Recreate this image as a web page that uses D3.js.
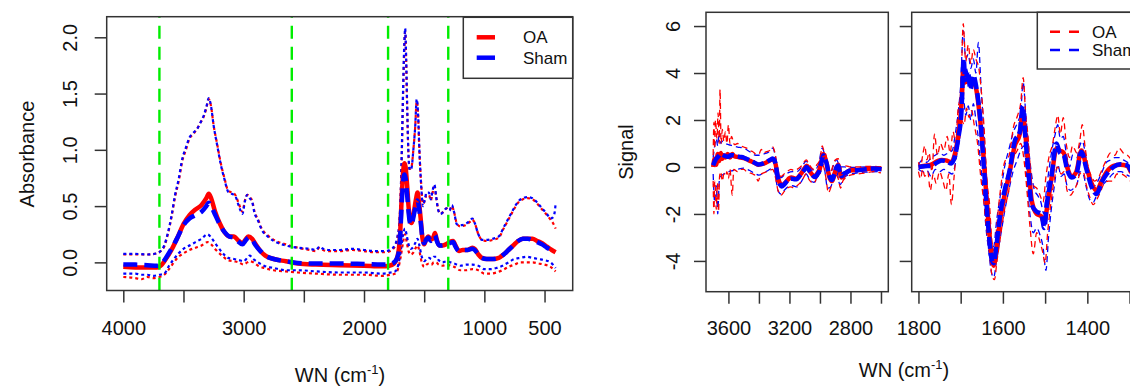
<!DOCTYPE html>
<html>
<head>
<meta charset="utf-8">
<script src="https://cdn.jsdelivr.net/npm/d3@7"></script>
<style>
  body { margin: 0; background: #fff; }
  svg { display: block; font-family: "Liberation Sans", Arial, Helvetica, sans-serif; }
</style>
</head>
<body>
<svg id="chart" width="1130" height="388"></svg>
<script>
// ---- left panel: absorbance spectra, [wavenumber, value] ----
const oaAbsMean = [[4000,-0.04],[3900,-0.045],[3800,-0.045],[3720,-0.045],[3680,-0.02],[3640,0.04],[3600,0.11],[3550,0.22],[3500,0.34],[3450,0.42],[3400,0.47],[3350,0.51],[3310,0.57],[3290,0.61],[3270,0.57],[3240,0.46],[3200,0.35],[3160,0.27],[3120,0.23],[3080,0.23],[3050,0.2],[3010,0.17],[2980,0.21],[2960,0.23],[2930,0.21],[2900,0.16],[2860,0.1],[2820,0.06],[2750,0.03],[2650,0.01],[2550,-0.01],[2400,-0.02],[2200,-0.025],[2000,-0.03],[1850,-0.035],[1790,-0.03],[1750,-0.01],[1725,0.04],[1710,0.12],[1700,0.25],[1690,0.5],[1678,0.75],[1665,0.88],[1655,0.85],[1643,0.7],[1630,0.5],[1618,0.37],[1605,0.35],[1590,0.42],[1570,0.55],[1555,0.62],[1545,0.55],[1530,0.4],[1515,0.22],[1500,0.16],[1485,0.2],[1465,0.23],[1445,0.2],[1425,0.22],[1410,0.26],[1395,0.2],[1375,0.15],[1350,0.15],[1320,0.16],[1290,0.18],[1260,0.19],[1240,0.15],[1210,0.1],[1180,0.11],[1140,0.11],[1100,0.13],[1080,0.12],[1050,0.07],[1020,0.04],[980,0.03],[930,0.03],[880,0.04],[840,0.07],[800,0.11],[760,0.15],[720,0.19],[680,0.21],[640,0.21],[600,0.21],[560,0.19],[520,0.17],[480,0.14],[440,0.11],[408,0.09]];
const shamAbsMean = [[4000,-0.02],[3900,-0.02],[3800,-0.025],[3720,-0.03],[3680,-0.01],[3640,0.05],[3600,0.12],[3550,0.22],[3500,0.33],[3450,0.39],[3400,0.42],[3350,0.45],[3310,0.5],[3290,0.53],[3270,0.5],[3240,0.43],[3200,0.34],[3160,0.27],[3120,0.23],[3080,0.22],[3050,0.19],[3010,0.16],[2980,0.2],[2960,0.22],[2930,0.2],[2900,0.15],[2860,0.1],[2820,0.06],[2750,0.03],[2650,0.01],[2550,-0.005],[2400,-0.01],[2200,-0.01],[2000,-0.015],[1850,-0.02],[1790,-0.015],[1750,0.0],[1725,0.04],[1710,0.1],[1700,0.22],[1690,0.45],[1678,0.68],[1665,0.78],[1655,0.75],[1643,0.62],[1630,0.45],[1618,0.35],[1605,0.33],[1590,0.4],[1570,0.5],[1555,0.55],[1545,0.5],[1530,0.37],[1515,0.22],[1500,0.17],[1485,0.2],[1465,0.22],[1445,0.19],[1425,0.21],[1410,0.24],[1395,0.19],[1375,0.15],[1350,0.15],[1320,0.16],[1290,0.17],[1260,0.18],[1240,0.14],[1210,0.1],[1180,0.11],[1140,0.11],[1100,0.12],[1080,0.11],[1050,0.07],[1020,0.04],[980,0.03],[930,0.03],[880,0.04],[840,0.07],[800,0.11],[760,0.15],[720,0.19],[680,0.21],[640,0.21],[600,0.2],[560,0.18],[520,0.16],[480,0.13],[440,0.11],[408,0.1]];
const oaAbsHi = [[4000,0.07],[3900,0.07],[3800,0.07],[3720,0.08],[3690,0.1],[3660,0.14],[3630,0.25],[3600,0.4],[3570,0.58],[3540,0.72],[3510,0.9],[3480,1.0],[3450,1.1],[3420,1.14],[3390,1.18],[3360,1.24],[3330,1.3],[3310,1.37],[3290,1.45],[3270,1.38],[3250,1.22],[3220,1.05],[3190,0.88],[3160,0.75],[3130,0.64],[3100,0.62],[3070,0.6],[3040,0.52],[3010,0.45],[2990,0.55],[2970,0.6],[2950,0.58],[2930,0.55],[2910,0.45],[2880,0.38],[2850,0.3],[2800,0.24],[2750,0.2],[2650,0.16],[2550,0.13],[2450,0.11],[2400,0.1],[2370,0.13],[2340,0.11],[2300,0.1],[2200,0.1],[2100,0.11],[2000,0.1],[1900,0.09],[1820,0.09],[1770,0.11],[1740,0.15],[1720,0.23],[1705,0.35],[1695,0.6],[1685,1.0],[1675,1.5],[1665,1.9],[1658,2.05],[1650,1.8],[1642,1.4],[1632,1.0],[1620,0.83],[1605,0.85],[1590,1.0],[1575,1.2],[1562,1.43],[1550,1.3],[1540,1.0],[1525,0.7],[1510,0.52],[1495,0.55],[1480,0.6],[1460,0.6],[1445,0.55],[1430,0.62],[1415,0.67],[1400,0.58],[1385,0.48],[1365,0.43],[1340,0.45],[1315,0.48],[1290,0.46],[1270,0.5],[1250,0.44],[1230,0.35],[1200,0.32],[1160,0.33],[1120,0.36],[1100,0.38],[1080,0.35],[1050,0.25],[1020,0.2],[980,0.19],[930,0.2],[880,0.22],[840,0.3],[800,0.38],[760,0.46],[720,0.53],[680,0.56],[640,0.57],[600,0.56],[560,0.52],[520,0.47],[480,0.42],[450,0.38],[430,0.35],[408,0.3]];
const shamAbsHi = [[4000,0.075],[3900,0.075],[3800,0.07],[3720,0.08],[3690,0.1],[3660,0.15],[3630,0.26],[3600,0.41],[3570,0.6],[3540,0.74],[3510,0.92],[3480,1.02],[3450,1.11],[3420,1.15],[3390,1.18],[3360,1.24],[3330,1.31],[3310,1.38],[3290,1.46],[3270,1.38],[3250,1.22],[3220,1.04],[3190,0.87],[3160,0.74],[3130,0.63],[3100,0.61],[3070,0.59],[3040,0.5],[3010,0.43],[2990,0.54],[2970,0.6],[2950,0.57],[2930,0.54],[2910,0.44],[2880,0.37],[2850,0.29],[2800,0.23],[2750,0.19],[2650,0.15],[2550,0.13],[2450,0.12],[2400,0.11],[2370,0.14],[2340,0.12],[2300,0.11],[2200,0.11],[2100,0.12],[2000,0.11],[1900,0.1],[1820,0.1],[1770,0.12],[1740,0.16],[1720,0.24],[1705,0.37],[1695,0.62],[1685,1.05],[1675,1.55],[1665,1.95],[1658,2.08],[1650,1.82],[1642,1.42],[1632,1.0],[1620,0.82],[1605,0.84],[1590,1.0],[1575,1.2],[1562,1.45],[1550,1.3],[1540,1.0],[1525,0.68],[1510,0.5],[1495,0.56],[1480,0.62],[1460,0.62],[1445,0.56],[1430,0.64],[1415,0.69],[1400,0.58],[1385,0.47],[1365,0.43],[1340,0.45],[1315,0.48],[1290,0.46],[1270,0.51],[1250,0.44],[1230,0.34],[1200,0.33],[1160,0.34],[1120,0.37],[1100,0.39],[1080,0.35],[1050,0.25],[1020,0.2],[980,0.2],[930,0.21],[880,0.23],[840,0.31],[800,0.39],[760,0.47],[720,0.54],[680,0.57],[640,0.58],[600,0.57],[560,0.53],[520,0.48],[480,0.43],[450,0.39],[430,0.4],[415,0.45],[408,0.52]];
const oaAbsLo = [[4000,-0.13],[3900,-0.14],[3850,-0.15],[3800,-0.13],[3750,-0.14],[3700,-0.13],[3660,-0.11],[3620,-0.06],[3580,0.0],[3540,0.05],[3500,0.08],[3450,0.11],[3400,0.13],[3350,0.15],[3300,0.18],[3270,0.16],[3230,0.11],[3180,0.06],[3130,0.02],[3080,0.01],[3040,0.0],[3000,-0.02],[2970,0.0],[2950,0.01],[2920,0.0],[2880,-0.03],[2830,-0.05],[2750,-0.07],[2650,-0.08],[2550,-0.09],[2400,-0.1],[2200,-0.11],[2000,-0.11],[1850,-0.12],[1780,-0.11],[1740,-0.1],[1715,-0.05],[1695,0.05],[1675,0.18],[1660,0.25],[1645,0.18],[1630,0.1],[1612,0.07],[1595,0.08],[1575,0.12],[1555,0.15],[1540,0.1],[1520,0.0],[1500,-0.04],[1480,-0.02],[1460,-0.01],[1440,-0.02],[1420,0.0],[1400,0.0],[1380,-0.02],[1350,-0.03],[1310,-0.02],[1280,-0.03],[1250,-0.04],[1200,-0.07],[1150,-0.07],[1100,-0.06],[1050,-0.07],[1000,-0.1],[950,-0.1],[900,-0.09],[850,-0.07],[800,-0.04],[750,-0.02],[700,0.0],[650,0.0],[600,0.0],[550,-0.01],[500,-0.02],[450,-0.04],[408,-0.08]];
const shamAbsLo = [[4000,-0.1],[3900,-0.1],[3850,-0.11],[3800,-0.11],[3750,-0.12],[3700,-0.11],[3660,-0.1],[3620,-0.03],[3580,0.03],[3540,0.08],[3500,0.12],[3450,0.15],[3400,0.18],[3350,0.21],[3300,0.25],[3270,0.22],[3230,0.16],[3180,0.09],[3130,0.04],[3080,0.03],[3040,0.02],[3000,0.01],[2970,0.04],[2950,0.06],[2920,0.03],[2880,0.0],[2830,-0.03],[2750,-0.05],[2650,-0.07],[2550,-0.07],[2400,-0.08],[2200,-0.09],[2000,-0.09],[1850,-0.1],[1780,-0.09],[1740,-0.08],[1715,-0.02],[1695,0.1],[1675,0.25],[1660,0.3],[1645,0.24],[1630,0.16],[1612,0.12],[1595,0.13],[1575,0.17],[1555,0.21],[1540,0.15],[1520,0.05],[1500,0.01],[1480,0.03],[1460,0.04],[1440,0.03],[1420,0.05],[1400,0.05],[1380,0.02],[1350,0.0],[1310,0.01],[1280,0.0],[1250,-0.01],[1200,-0.03],[1150,-0.02],[1100,-0.02],[1050,-0.03],[1000,-0.06],[950,-0.06],[900,-0.05],[850,-0.03],[800,0.0],[750,0.03],[700,0.04],[650,0.05],[600,0.04],[550,0.03],[500,0.02],[450,0.0],[408,-0.05]];
const regionBounds = [3700, 2600, 1800, 1300];

// ---- right panel: signal, high wavenumber window ----
const oaSigMeanHigh = [[3700,0.0],[3690,0.35],[3680,0.1],[3670,0.55],[3660,0.25],[3650,0.6],[3640,0.35],[3630,0.5],[3620,0.4],[3605,0.55],[3590,0.4],[3575,0.55],[3560,0.45],[3540,0.43],[3520,0.4],[3500,0.38],[3480,0.33],[3458,0.26],[3437,0.2],[3420,0.14],[3404,0.1],[3388,0.11],[3371,0.14],[3355,0.18],[3339,0.24],[3322,0.3],[3310,0.33],[3300,0.28],[3290,0.1],[3280,-0.3],[3273,-0.5],[3262,-0.7],[3251,-0.8],[3235,-0.72],[3218,-0.6],[3200,-0.48],[3186,-0.45],[3170,-0.48],[3153,-0.5],[3135,-0.38],[3120,-0.25],[3100,-0.05],[3087,0.05],[3075,-0.05],[3066,-0.18],[3050,-0.33],[3033,-0.4],[3015,-0.25],[3000,-0.05],[2990,0.25],[2978,0.55],[2968,0.4],[2956,0.15],[2945,-0.25],[2934,-0.5],[2920,-0.6],[2905,-0.3],[2890,0.0],[2880,0.1],[2870,-0.2],[2858,-0.45],[2845,-0.35],[2830,-0.25],[2803,-0.15],[2770,-0.13],[2738,-0.12],[2700,-0.1],[2650,-0.06],[2620,-0.07],[2596,-0.08]];
const shamSigMeanHigh = [[3700,0.07],[3685,0.3],[3666,0.45],[3650,0.55],[3633,0.5],[3615,0.45],[3601,0.43],[3585,0.5],[3568,0.5],[3545,0.46],[3524,0.43],[3500,0.4],[3480,0.34],[3458,0.28],[3437,0.21],[3420,0.15],[3404,0.11],[3388,0.12],[3371,0.15],[3355,0.2],[3339,0.26],[3322,0.32],[3310,0.36],[3300,0.3],[3290,0.1],[3280,-0.3],[3273,-0.55],[3262,-0.75],[3251,-0.83],[3235,-0.75],[3218,-0.62],[3200,-0.52],[3186,-0.5],[3170,-0.52],[3153,-0.52],[3135,-0.4],[3120,-0.28],[3100,-0.1],[3087,0.0],[3075,-0.1],[3066,-0.2],[3050,-0.35],[3033,-0.43],[3015,-0.3],[3000,-0.1],[2990,0.2],[2978,0.5],[2968,0.35],[2956,0.15],[2945,-0.2],[2934,-0.45],[2920,-0.55],[2905,-0.3],[2890,0.0],[2880,0.05],[2870,-0.2],[2858,-0.4],[2845,-0.3],[2830,-0.25],[2803,-0.15],[2770,-0.14],[2738,-0.13],[2700,-0.1],[2650,-0.07],[2620,-0.08],[2596,-0.1]];
const oaSigHiHigh = [[3700,0.5],[3695,1.9],[3690,0.8],[3685,2.0],[3675,1.2],[3668,2.3],[3660,1.0],[3655,3.3],[3648,1.0],[3640,1.6],[3630,1.1],[3620,1.5],[3610,1.0],[3600,1.8],[3590,1.0],[3580,1.3],[3560,0.95],[3540,1.0],[3520,0.9],[3500,0.85],[3480,0.8],[3460,0.7],[3440,0.65],[3420,0.55],[3400,0.55],[3385,0.75],[3370,0.6],[3350,0.65],[3330,0.7],[3310,0.85],[3295,0.6],[3275,-0.2],[3255,-0.4],[3235,-0.3],[3215,-0.2],[3190,-0.1],[3170,-0.15],[3150,-0.1],[3120,0.05],[3090,0.3],[3070,0.1],[3040,-0.1],[3020,0.1],[3000,0.3],[2985,0.9],[2975,0.7],[2960,0.5],[2945,0.0],[2930,-0.2],[2915,0.05],[2900,0.3],[2880,0.35],[2865,-0.05],[2850,0.0],[2830,0.05],[2800,0.0],[2750,0.0],[2700,0.02],[2650,0.03],[2600,0.0]];
const oaSigLoHigh = [[3700,-0.6],[3695,-2.0],[3690,-0.6],[3685,-1.0],[3680,-1.8],[3672,-0.7],[3665,-1.9],[3658,-0.4],[3650,-0.2],[3640,-0.6],[3630,-0.3],[3620,-0.4],[3610,-0.2],[3600,-0.5],[3590,-0.1],[3575,-1.2],[3565,-0.1],[3540,-0.2],[3520,-0.1],[3500,-0.1],[3480,-0.2],[3460,-0.25],[3440,-0.3],[3420,-0.4],[3405,-0.6],[3390,-0.35],[3370,-0.25],[3350,-0.2],[3330,-0.15],[3310,-0.1],[3295,-0.35],[3275,-1.0],[3255,-1.2],[3235,-1.05],[3215,-0.9],[3190,-0.85],[3170,-0.9],[3150,-0.8],[3120,-0.6],[3090,-0.3],[3070,-0.55],[3040,-0.7],[3020,-0.45],[3000,-0.3],[2985,0.1],[2975,0.0],[2960,-0.5],[2945,-1.1],[2930,-0.9],[2915,-0.5],[2900,-0.3],[2880,-0.5],[2865,-0.9],[2850,-0.6],[2830,-0.45],[2800,-0.35],[2750,-0.3],[2700,-0.25],[2650,-0.2],[2600,-0.25]];
const shamSigHiHigh = [[3700,0.4],[3690,0.9],[3680,1.2],[3670,0.9],[3660,1.5],[3650,1.0],[3640,1.1],[3620,1.0],[3600,0.95],[3570,0.9],[3540,0.85],[3500,0.8],[3460,0.65],[3420,0.5],[3400,0.5],[3370,0.55],[3340,0.62],[3310,0.8],[3295,0.55],[3275,-0.2],[3255,-0.45],[3235,-0.35],[3210,-0.25],[3180,-0.2],[3150,-0.2],[3120,0.0],[3090,0.25],[3070,0.05],[3040,-0.15],[3010,0.1],[2985,0.8],[2970,0.55],[2950,0.0],[2930,-0.25],[2910,0.1],[2890,0.3],[2870,0.0],[2840,0.0],[2800,-0.02],[2700,0.0],[2600,-0.02]];
const shamSigLoHigh = [[3700,-0.3],[3690,-1.5],[3680,-0.8],[3670,-2.0],[3660,-0.6],[3650,-0.4],[3630,-0.3],[3600,-0.2],[3570,-0.15],[3540,-0.1],[3500,-0.05],[3460,-0.15],[3420,-0.3],[3400,-0.35],[3370,-0.25],[3340,-0.15],[3310,-0.05],[3295,-0.25],[3275,-1.0],[3255,-1.15],[3235,-1.0],[3210,-0.85],[3180,-0.8],[3150,-0.85],[3120,-0.6],[3090,-0.3],[3070,-0.5],[3040,-0.65],[3010,-0.35],[2985,0.15],[2970,-0.1],[2950,-0.9],[2930,-0.85],[2910,-0.45],[2890,-0.2],[2870,-0.75],[2840,-0.45],[2800,-0.3],[2700,-0.22],[2600,-0.2]];

// ---- right panel: signal, fingerprint window ----
const oaSigMeanLow = [[1800,0.0],[1785,0.05],[1770,0.1],[1755,0.25],[1745,0.3],[1735,0.28],[1722,0.2],[1713,0.6],[1705,1.4],[1698,2.7],[1693,4.2],[1689,3.6],[1683,3.8],[1677,3.5],[1670,3.6],[1663,3.3],[1655,2.2],[1647,0.7],[1640,-1.0],[1634,-2.4],[1627,-3.7],[1622,-4.2],[1615,-3.5],[1607,-2.3],[1596,-1.2],[1584,-0.2],[1572,0.9],[1560,1.4],[1553,2.3],[1547,1.4],[1540,0.2],[1532,-1.4],[1520,-2.0],[1509,-2.1],[1502,-2.4],[1496,-1.8],[1485,-0.5],[1473,0.8],[1465,0.7],[1456,0.6],[1448,0.0],[1437,-0.4],[1426,-0.2],[1414,0.7],[1402,0.0],[1390,-0.7],[1378,-1.0],[1366,-0.6],[1354,-0.2],[1338,0.05],[1322,0.1],[1306,0.05],[1296,-0.25]];
const shamSigMeanLow = [[1800,0.0],[1785,0.03],[1770,0.05],[1755,0.2],[1745,0.28],[1735,0.25],[1722,0.15],[1713,0.5],[1705,1.3],[1698,2.4],[1693,4.6],[1689,3.7],[1683,4.1],[1677,3.3],[1670,3.9],[1663,3.4],[1655,2.3],[1647,0.5],[1640,-1.3],[1634,-2.7],[1627,-3.9],[1622,-4.1],[1615,-3.3],[1607,-2.1],[1596,-1.0],[1584,-0.15],[1572,1.1],[1560,1.5],[1553,2.6],[1547,1.3],[1540,-0.1],[1532,-1.6],[1520,-1.9],[1509,-2.0],[1502,-2.6],[1496,-1.6],[1485,-0.4],[1473,1.0],[1465,0.6],[1456,0.5],[1448,-0.1],[1437,-0.45],[1426,-0.3],[1414,0.65],[1402,-0.1],[1390,-0.85],[1378,-1.15],[1366,-0.65],[1354,-0.3],[1338,0.0],[1322,0.12],[1306,0.08],[1296,-0.2]];
const oaSigHiLow = [[1800,0.2],[1795,0.0],[1790,0.5],[1785,0.9],[1780,0.3],[1775,0.6],[1768,-0.2],[1762,1.4],[1755,0.5],[1748,1.0],[1740,0.7],[1732,1.3],[1725,0.6],[1718,1.5],[1712,1.0],[1706,2.5],[1700,3.0],[1694,6.1],[1688,4.5],[1682,5.2],[1676,4.4],[1670,5.0],[1664,4.6],[1657,4.2],[1650,3.0],[1644,1.5],[1638,-0.6],[1632,-1.5],[1626,-3.2],[1620,-3.6],[1614,-2.4],[1606,-1.0],[1596,0.2],[1585,0.5],[1575,1.7],[1565,2.2],[1558,2.7],[1552,3.8],[1546,2.2],[1540,1.2],[1534,-0.5],[1527,-0.8],[1520,-0.9],[1512,-1.2],[1505,-1.5],[1498,-0.4],[1490,0.5],[1482,1.0],[1476,1.7],[1470,2.2],[1464,1.4],[1457,2.1],[1450,1.0],[1442,0.4],[1435,0.9],[1425,0.6],[1418,1.1],[1412,1.8],[1405,0.8],[1398,0.0],[1390,-0.4],[1383,-0.6],[1375,-0.5],[1365,-0.1],[1355,0.3],[1345,0.6],[1335,0.5],[1325,0.8],[1315,0.6],[1305,0.5],[1295,0.3]];
const oaSigLoLow = [[1800,-0.2],[1795,-0.5],[1790,-0.1],[1785,-0.4],[1778,-0.2],[1772,-1.0],[1765,-0.3],[1758,-0.7],[1750,-0.2],[1742,-0.6],[1735,-1.0],[1728,-0.3],[1722,-1.6],[1716,-0.5],[1710,0.8],[1704,1.8],[1698,2.0],[1692,1.8],[1686,2.5],[1680,2.1],[1674,2.4],[1668,1.8],[1660,1.0],[1652,-0.5],[1645,-1.5],[1638,-2.8],[1632,-3.6],[1626,-4.6],[1620,-4.8],[1614,-4.0],[1606,-3.0],[1596,-1.8],[1586,-1.0],[1576,0.3],[1566,0.7],[1558,1.0],[1550,0.3],[1544,-0.8],[1536,-2.5],[1528,-3.7],[1520,-2.8],[1512,-3.2],[1506,-3.6],[1500,-4.1],[1494,-2.8],[1486,-1.5],[1478,-0.5],[1470,0.0],[1462,-0.3],[1455,-0.2],[1448,-1.0],[1440,-1.2],[1432,-1.0],[1424,-0.7],[1418,-0.3],[1410,-0.2],[1402,-0.8],[1394,-1.3],[1386,-1.6],[1378,-1.4],[1370,-1.1],[1360,-0.7],[1350,-0.6],[1340,-0.6],[1330,-0.3],[1320,-0.3],[1310,-0.4],[1300,-0.6]];
const shamSigHiLow = [[1800,0.1],[1790,0.3],[1780,0.2],[1770,0.4],[1760,0.5],[1750,0.6],[1740,0.5],[1730,0.6],[1720,0.7],[1712,1.5],[1706,2.3],[1700,3.5],[1694,5.8],[1688,4.6],[1682,4.8],[1676,4.2],[1670,4.6],[1664,4.0],[1658,5.3],[1652,3.5],[1646,1.8],[1640,0.0],[1634,-1.8],[1628,-3.2],[1622,-3.4],[1615,-2.3],[1606,-1.2],[1596,0.0],[1585,0.8],[1575,1.5],[1565,1.9],[1558,2.3],[1552,3.6],[1546,2.3],[1540,1.0],[1533,-0.2],[1525,-1.0],[1518,-1.2],[1510,-1.5],[1503,-2.0],[1497,-1.0],[1490,0.0],[1482,0.9],[1476,1.4],[1470,1.8],[1464,1.2],[1457,1.3],[1450,0.6],[1442,0.0],[1435,0.5],[1425,0.4],[1418,0.9],[1412,1.1],[1405,0.6],[1398,-0.2],[1390,-0.6],[1383,-0.8],[1375,-0.6],[1365,-0.2],[1355,0.2],[1345,0.3],[1335,0.4],[1325,0.4],[1315,0.3],[1305,0.2],[1295,0.0]];
const shamSigLoLow = [[1800,-0.1],[1790,-0.2],[1780,-0.15],[1770,-0.4],[1760,-0.1],[1750,-0.2],[1740,-0.1],[1730,-0.2],[1720,-0.3],[1712,0.2],[1706,0.9],[1700,1.5],[1694,3.0],[1688,2.2],[1682,2.6],[1676,2.0],[1670,2.7],[1664,2.0],[1658,1.2],[1652,0.0],[1646,-1.2],[1640,-2.6],[1634,-3.5],[1628,-4.4],[1622,-4.7],[1615,-4.0],[1606,-3.0],[1596,-1.9],[1586,-1.0],[1576,-0.2],[1566,0.3],[1558,0.7],[1550,0.9],[1544,-0.4],[1536,-2.0],[1528,-2.8],[1520,-2.6],[1512,-2.9],[1505,-3.4],[1498,-4.4],[1492,-3.0],[1486,-1.9],[1478,-0.8],[1470,0.1],[1462,-0.4],[1455,-0.3],[1448,-0.8],[1440,-1.0],[1432,-0.9],[1424,-0.7],[1418,-0.2],[1410,-0.3],[1402,-0.9],[1394,-1.4],[1386,-1.5],[1378,-1.2],[1370,-0.9],[1360,-0.7],[1350,-0.5],[1340,-0.3],[1330,-0.2],[1320,-0.2],[1310,-0.3],[1300,-0.4]];

// ---- ticks and labels ----
const absTicksX = [4000, 3500, 3000, 2500, 2000, 1500, 1000, 500];
const absLabelsX = [4000, 3000, 2000, 1000, 500];
const absTicksY = [0, 0.5, 1, 1.5, 2];
const sigTicksY = [-4, -2, 0, 2, 4, 6];
const sigTicksHigh = [3600, 3400, 3200, 3000, 2800, 2600];
const sigLabelsHigh = [3600, 3200, 2800];
const sigTicksLow = [1800, 1700, 1600, 1500, 1400, 1300];
const sigLabelsLow = [1800, 1600, 1400];
const groups = ["OA", "Sham"];
const groupColors = ["#ff0000", "#0000ff"];

const svg = d3.select("#chart");
const FONT = 20;

function drawLine(g, data, x, y, color, width, dash) {
  g.append("path")
    .datum(data)
    .attr("fill", "none")
    .attr("stroke", color)
    .attr("stroke-width", width)
    .attr("stroke-dasharray", dash)
    .attr("stroke-linejoin", "round")
    .attr("d", d3.line().x(d => x(d[0])).y(d => y(d[1])).curve(d3.curveMonotoneX));
}

function makePanel(id, x, y) {
  const [x0, x1] = x.range();
  const [y0, y1] = y.range();
  svg.append("clipPath").attr("id", id)
    .append("rect").attr("x", x0).attr("y", y1).attr("width", x1 - x0).attr("height", y0 - y1);
  return svg.append("g").attr("clip-path", "url(#" + id + ")");
}

function drawBox(x, y) {
  const [x0, x1] = x.range();
  const [y0, y1] = y.range();
  svg.append("rect")
    .attr("x", x0).attr("y", y1).attr("width", x1 - x0).attr("height", y0 - y1)
    .attr("fill", "none").attr("stroke", "#333").attr("stroke-width", 1.5);
}

function bottomAxis(x, y, ticks, labels) {
  const base = y.range()[0];
  const g = svg.append("g")
    .attr("transform", "translate(0," + base + ")")
    .call(d3.axisBottom(x).tickValues(ticks).tickSize(12).tickSizeOuter(0)
      .tickFormat(d => labels.includes(d) ? d : ""));
  g.select(".domain").remove();
  g.selectAll(".tick line").attr("stroke", "#333").attr("stroke-width", 1.5);
  // label centres sit near y = 328 in both panels
  g.selectAll(".tick text").attr("y", 335 - base).attr("dy", 0)
    .attr("font-size", FONT).attr("font-family", null).attr("fill", "#111");
}

function leftAxis(x, y, ticks, fmt, offset) {
  const g = svg.append("g")
    .attr("transform", "translate(" + x.range()[0] + ",0)")
    .call(d3.axisLeft(y).tickValues(ticks).tickSize(12).tickSizeOuter(0).tickFormat(fmt));
  g.select(".domain").remove();
  g.selectAll(".tick line").attr("stroke", "#333").attr("stroke-width", 1.5);
  g.selectAll(".tick text")
    .attr("transform", "rotate(-90)")
    .attr("x", 0).attr("y", -offset).attr("dy", 0)
    .attr("text-anchor", "middle")
    .attr("font-size", FONT).attr("font-family", null).attr("fill", "#111");
}

function xTitle(cx, cy) {
  const t = svg.append("text").attr("x", cx).attr("y", cy)
    .attr("text-anchor", "middle").attr("font-size", FONT).attr("fill", "#111");
  t.append("tspan").text("WN (cm");
  t.append("tspan").attr("dy", -8).attr("font-size", 13).text("-1");
  t.append("tspan").attr("dy", 8).text(")");
}

function yTitle(text, cx, cy) {
  svg.append("text")
    .attr("transform", "translate(" + cx + "," + cy + ") rotate(-90)")
    .attr("text-anchor", "middle").attr("font-size", FONT).attr("fill", "#111")
    .text(text);
}

function legend(x0, y0, x1, y1, lineX0, lineX1, textX, rows, width, dash) {
  svg.append("rect")
    .attr("x", x0).attr("y", y0).attr("width", x1 - x0).attr("height", y1 - y0)
    .attr("fill", "#fff").attr("stroke", "#333").attr("stroke-width", 1.5);
  groups.forEach((name, i) => {
    svg.append("line")
      .attr("x1", lineX0).attr("x2", lineX1).attr("y1", rows[i]).attr("y2", rows[i])
      .attr("stroke", groupColors[i]).attr("stroke-width", width)
      .attr("stroke-dasharray", dash);
    svg.append("text")
      .attr("x", textX).attr("y", rows[i] + 6)
      .attr("font-size", 17).attr("fill", "#111")
      .text(name);
  });
}

// ---- left panel ----
const xAbs = d3.scaleLinear().domain([4138, 266]).range([106.7, 572.7]);
const yAbs = d3.scaleLinear().domain([-0.25, 2.183]).range([290.5, 16.7]);
const absG = makePanel("clipAbs", xAbs, yAbs);

drawLine(absG, oaAbsHi, xAbs, yAbs, groupColors[0], 2.2, "3,3");
drawLine(absG, oaAbsLo, xAbs, yAbs, groupColors[0], 2.2, "3,3");
drawLine(absG, shamAbsHi, xAbs, yAbs, groupColors[1], 2.2, "3,3");
drawLine(absG, shamAbsLo, xAbs, yAbs, groupColors[1], 2.2, "3,3");
drawLine(absG, oaAbsMean, xAbs, yAbs, groupColors[0], 4.5, null);
drawLine(absG, shamAbsMean, xAbs, yAbs, groupColors[1], 4.5, "14,7");

absG.selectAll("line.bound")
  .data(regionBounds)
  .enter()
  .append("line")
  .attr("class", "bound")
  .attr("x1", d => xAbs(d)).attr("x2", d => xAbs(d))
  .attr("y1", yAbs.range()[1]).attr("y2", yAbs.range()[0])
  .attr("stroke", "#00ee00").attr("stroke-width", 2.4)
  .attr("stroke-dasharray", "13,8").attr("stroke-dashoffset", 12);

drawBox(xAbs, yAbs);
bottomAxis(xAbs, yAbs, absTicksX, absLabelsX);
leftAxis(xAbs, yAbs, absTicksY, d3.format(".1f"), 29.5);
xTitle(340, 382);
yTitle("Absorbance", 34, 154);
legend(463.3, 17.3, 572.7, 78.3, 476.7, 495, 523, [37.3, 57.7], 4.5, null);

// ---- right panel: two wavenumber windows sharing one y scale ----
const ySig = d3.scaleLinear().domain([-5.31, 6.585]).range([291.7, 12.3]);
const xHigh = d3.scaleLinear().domain([3747, 2552]).range([706, 888.3]);
const xLow = d3.scaleLinear().domain([1816, 1280]).range([911.7, 1138]);

const highG = makePanel("clipHigh", xHigh, ySig);
drawLine(highG, shamSigHiHigh, xHigh, ySig, groupColors[1], 1.3, "6,4");
drawLine(highG, shamSigLoHigh, xHigh, ySig, groupColors[1], 1.3, "6,4");
drawLine(highG, oaSigHiHigh, xHigh, ySig, groupColors[0], 1.3, "6,4");
drawLine(highG, oaSigLoHigh, xHigh, ySig, groupColors[0], 1.3, "6,4");
drawLine(highG, oaSigMeanHigh, xHigh, ySig, groupColors[0], 4.5, null);
drawLine(highG, shamSigMeanHigh, xHigh, ySig, groupColors[1], 4.5, "12,4");

const lowG = makePanel("clipLow", xLow, ySig);
drawLine(lowG, shamSigHiLow, xLow, ySig, groupColors[1], 1.3, "6,4");
drawLine(lowG, shamSigLoLow, xLow, ySig, groupColors[1], 1.3, "6,4");
drawLine(lowG, oaSigHiLow, xLow, ySig, groupColors[0], 1.3, "6,4");
drawLine(lowG, oaSigLoLow, xLow, ySig, groupColors[0], 1.3, "6,4");
drawLine(lowG, oaSigMeanLow, xLow, ySig, groupColors[0], 4.5, null);
drawLine(lowG, shamSigMeanLow, xLow, ySig, groupColors[1], 4.5, "12,4");

drawBox(xHigh, ySig);
drawBox(xLow, ySig);
bottomAxis(xHigh, ySig, sigTicksHigh, sigLabelsHigh);
bottomAxis(xLow, ySig, sigTicksLow, sigLabelsLow);
leftAxis(xHigh, ySig, sigTicksY, d => String(d), 26);
leftAxis(xLow, ySig, sigTicksY, () => "", 26);
xTitle(904, 377);
yTitle("Signal", 633, 152);
legend(1037.3, 12.3, 1160, 69, 1050, 1079, 1092, [31.7, 50], 2.5, "10,9");
</script>
</body>
</html>
